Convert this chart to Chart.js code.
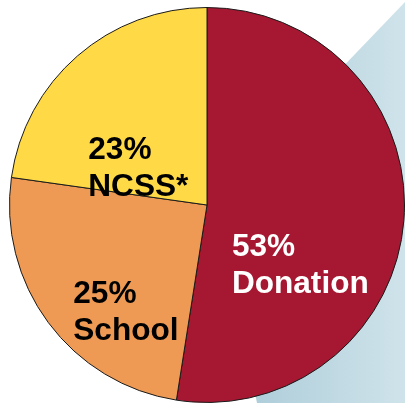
<!DOCTYPE html>
<html>
<head>
<meta charset="utf-8">
<script src="https://cdn.jsdelivr.net/npm/chart.js@4"></script>
<style>
  html, body { margin: 0; padding: 0; background: #ffffff; }
  #wrap { width: 405px; height: 403px; position: relative; }
</style>
</head>
<body>
<div id="wrap"><canvas id="fundingChart" width="405" height="403"></canvas></div>
<script>
const categories = ["Donation", "School", "NCSS*"];
const shares = [53, 25, 23];

const sliceColors = ["#A61731", "#EE9A54", "#FFD946"];
const textColors = ["#ffffff", "#000000", "#000000"];
// first-line baseline / left edge, in units of the pie radius from its centre
const labelSpots = [[0.126, 0.258], [-0.677, 0.495], [-0.601, -0.232]];

// light blue slanted panel behind the pie
const backdrop = {
    id: "backdrop",
    beforeDraw(chart) {
        const ctx = chart.ctx;
        const grad = ctx.createLinearGradient(220, 0, 405, 0);
        grad.addColorStop(0, "#A7C9D7");
        grad.addColorStop(1, "#CFE3EA");
        ctx.save();
        ctx.fillStyle = grad;
        ctx.beginPath();
        ctx.moveTo(405, 2);
        ctx.lineTo(215, 200);
        ctx.lineTo(257, 403);
        ctx.lineTo(405, 403);
        ctx.closePath();
        ctx.fill();
        ctx.restore();
    }
};

const sliceLabels = {
    id: "sliceLabels",
    afterDatasetsDraw(chart) {
        const ctx = chart.ctx;
        const arcs = chart.getDatasetMeta(0).data;
        ctx.save();
        ctx.font = "bold 31.6px 'Liberation Sans', Arial, sans-serif";
        ctx.textAlign = "left";
        ctx.textBaseline = "alphabetic";
        arcs.forEach((arc, i) => {
            const r = arc.outerRadius;
            const x = arc.x + labelSpots[i][0] * r;
            const y = arc.y + labelSpots[i][1] * r;
            ctx.fillStyle = textColors[i];
            ctx.fillText(shares[i] + "%", x, y);
            ctx.fillText(categories[i], x, y + 37);
        });
        ctx.restore();
    }
};

const ctx = document.getElementById("fundingChart").getContext("2d");
new Chart(ctx, {
    type: "pie",
    data: {
        labels: categories,
        datasets: [{
            data: shares,
            backgroundColor: sliceColors,
            borderColor: "#1a1a1a",
            borderWidth: 1
        }]
    },
    options: {
        responsive: false,
        animation: false,
        layout: { padding: { left: 9, top: 7, right: 0, bottom: 0 } },
        plugins: {
            legend: { display: false },
            tooltip: { enabled: false }
        }
    },
    plugins: [backdrop, sliceLabels]
});
</script>
</body>
</html>
